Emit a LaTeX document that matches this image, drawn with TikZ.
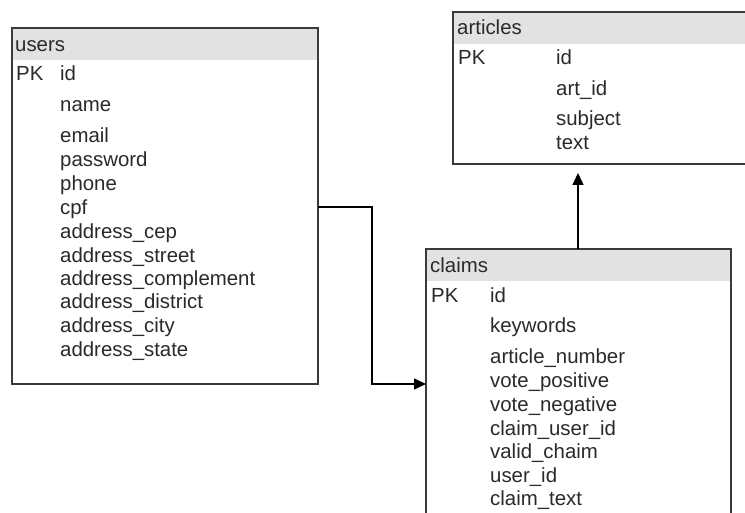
\documentclass[tikz,border=0pt]{standalone}
\usepackage{fontspec}
\setmainfont{Liberation Sans}
\usetikzlibrary{arrows.meta}
\definecolor{edgegray}{HTML}{3A3A3A}
\definecolor{headgray}{HTML}{E2E2E2}
\definecolor{inkgray}{HTML}{2A2A2A}
\begin{document}
\begin{tikzpicture}[x=1pt,y=1pt,
  tablebox/.style={draw=edgegray,line width=1.4pt,fill=white,anchor=north west,inner sep=0pt,outer sep=0pt},
  headband/.style={fill=headgray,draw=none,anchor=north west,inner sep=0pt,outer sep=0pt},
  fieldtxt/.style={anchor=west,inner sep=0pt,text=inkgray,font=\fontsize{20.4}{24}\selectfont,text height=0.72em,text depth=0.2em,yshift=-4pt},
  link/.style={draw=black,line width=1.3pt},
  tip/.style={-{Triangle[length=12pt,width=11pt]}}]
\useasboundingbox (0,0) rectangle (745,-513);
\clip (0,0) rectangle (745,-513);
\fill[white] (0,0) rectangle (745,-513);

% ---- users table ----
\node[tablebox,minimum width=306pt,minimum height=356pt] (users) at (12,-28) {};
\node[headband,minimum width=304.6pt,minimum height=31pt] (usershead) at (12.7,-28.7) {};
\draw[draw=edgegray,line width=1.4pt] (users.north west) rectangle (users.south east);
\node[fieldtxt] (usersname) at (15,-45) {users};
\node[fieldtxt] (upk) at (16,-74) {PK};
\node[fieldtxt] (u1) at (60,-74) {id};
\node[fieldtxt] (u2) at (60,-105) {name};
\node[fieldtxt] (u3) at (60,-136) {email};
\node[fieldtxt] (u4) at (60,-160) {password};
\node[fieldtxt] (u5) at (60,-184) {phone};
\node[fieldtxt] (u6) at (60,-208) {cpf};
\node[fieldtxt] (u7) at (60,-232) {address\_cep};
\node[fieldtxt] (u8) at (60,-256) {address\_street};
\node[fieldtxt] (u9) at (60,-279) {address\_complement};
\node[fieldtxt] (u10) at (60,-302) {address\_district};
\node[fieldtxt] (u11) at (60,-326) {address\_city};
\node[fieldtxt] (u12) at (60,-350) {address\_state};

% ---- articles table (runs past the right edge) ----
\node[tablebox,minimum width=330pt,minimum height=152pt] (articles) at (453,-12) {};
\node[headband,minimum width=328pt,minimum height=31pt] (articleshead) at (453.7,-12.7) {};
\draw[draw=edgegray,line width=1.4pt] (articles.north west) rectangle (articles.south east);
\node[fieldtxt] (articlesname) at (457,-28) {articles};
\node[fieldtxt] (apk) at (458,-58) {PK};
\node[fieldtxt] (a1) at (556,-58) {id};
\node[fieldtxt] (a2) at (556,-89) {art\_id};
\node[fieldtxt] (a3) at (556,-119) {subject};
\node[fieldtxt] (a4) at (556,-143) {text};

% ---- claims table (runs past the bottom edge) ----
\node[tablebox,minimum width=305pt,minimum height=300pt] (claims) at (426,-249) {};
\node[headband,minimum width=303.6pt,minimum height=31pt] (claimshead) at (426.7,-249.7) {};
\draw[draw=edgegray,line width=1.4pt] (claims.north west) rectangle (claims.south east);
\node[fieldtxt] (claimsname) at (430,-266) {claims};
\node[fieldtxt] (cpk) at (431,-296) {PK};
\node[fieldtxt] (c1) at (490,-296) {id};
\node[fieldtxt] (c2) at (490,-326) {keywords};
\node[fieldtxt] (c3) at (490,-357) {article\_number};
\node[fieldtxt] (c4) at (490,-381) {vote\_positive};
\node[fieldtxt] (c5) at (490,-405) {vote\_negative};
\node[fieldtxt] (c6) at (490,-429) {claim\_user\_id};
\node[fieldtxt] (c7) at (490,-452) {valid\_chaim};
\node[fieldtxt] (c8) at (490,-476) {user\_id};
\node[fieldtxt] (c9) at (490,-499) {claim\_text};

% ---- relations ----
\coordinate (usersport) at (users.north east |- 0,-207);
\coordinate (bendtop) at (372,-207);
\coordinate (bendlow) at (372,-384);
\draw[link,tip] (usersport) -- (bendtop) -- (bendlow) -- (bendlow -| claims.west);

\coordinate (claimsport) at (claims.north west -| 578,0);
\coordinate (articlesport) at (578,-173);
\draw[link,tip] (claimsport) -- (articlesport);
\end{tikzpicture}
\end{document}
